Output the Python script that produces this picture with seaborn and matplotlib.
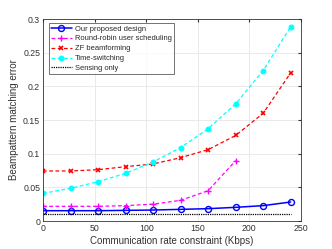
import matplotlib
matplotlib.use("Agg")
import matplotlib.pyplot as plt
import seaborn as sns
import numpy as np
import pandas as pd

rate = [0, 26.67, 53.33, 80, 106.67, 133.33, 160, 186.67, 213.33, 240]
proposed = [0.0153, 0.0153, 0.0153, 0.0158, 0.0163, 0.0173, 0.0183, 0.0203, 0.0228, 0.0282]
rate_rr = [0, 26.67, 53.33, 80, 106.67, 133.33, 160, 186.67]
round_robin = [0.0218, 0.0218, 0.0218, 0.0228, 0.025, 0.0307, 0.045, 0.0896]
zf = [0.0743, 0.0743, 0.0762, 0.0807, 0.0847, 0.094, 0.106, 0.127, 0.160, 0.220]
time_switching = [0.041, 0.0485, 0.0584, 0.0708, 0.0876, 0.109, 0.137, 0.174, 0.2233, 0.2886]
sensing_only = [0.0104] * 10

sns.set_style("whitegrid")
plt.rcParams['font.family'] = ['Liberation Sans', 'DejaVu Sans']

fig = plt.figure(figsize=(3.32, 2.49), dpi=100)
ax = fig.add_axes([43/332, 1 - 221/249, (301-43)/332, (221-19)/249])

sns.lineplot(x=rate, y=proposed, ax=ax, color='blue', lw=1.1, marker='o', ms=4.3,
             mfc='none', mec='blue', mew=1.0, label='Our proposed design')
sns.lineplot(x=rate_rr, y=round_robin, ax=ax, color='magenta', lw=0.9, ls=(0, (3, 2)),
             marker='+', ms=5, mew=1.0, mec='magenta', label='Round-robin user scheduling')
sns.lineplot(x=rate, y=zf, ax=ax, color='red', lw=0.9, ls=(0, (3, 2)),
             marker='x', ms=3.5, mew=1.2, mec='red', label='ZF beamforming')
sns.lineplot(x=rate, y=time_switching, ax=ax, color='cyan', lw=0.9, ls=(0, (3, 2)),
             marker='o', ms=3.5, mfc='cyan', mec='cyan', label='Time-switching')
sns.lineplot(x=rate, y=sensing_only, ax=ax, color='black', lw=0.9, ls=(0, (1, 0.8)),
             label='Sensing only')

ax.set_xlim(0, 250)
ax.set_ylim(0, 0.3)
ax.set_xticks([0, 50, 100, 150, 200, 250])
ax.set_yticks([0, 0.05, 0.1, 0.15, 0.2, 0.25, 0.3])
ax.set_yticklabels(['0', '0.05', '0.1', '0.15', '0.2', '0.25', '0.3'])
ax.tick_params(axis='both', labelsize=6.3, length=2, direction='in', color='#333333',
               labelcolor='#333333', pad=2, top=True, right=True)
ax.grid(True, color='#e6e6e6', lw=0.6)
for s in ax.spines.values():
    s.set_visible(True)
    s.set_color('#333333')
    s.set_linewidth(0.6)
ax.set_xlabel('Communication rate constraint (Kbps)', fontsize=7, color='#333333', labelpad=2)
ax.set_ylabel('Beampattern matching error', fontsize=7, color='#333333', labelpad=3)

leg = ax.legend(loc='upper left', fontsize=5.4, frameon=True, fancybox=False,
                edgecolor='#333333', handlelength=2.8, handletextpad=0.4,
                borderpad=0.3, labelspacing=0.35, borderaxespad=0,
                bbox_to_anchor=(0.022, 0.98))
leg.get_frame().set_linewidth(0.6)

fig.savefig('out.png', dpi=100)
